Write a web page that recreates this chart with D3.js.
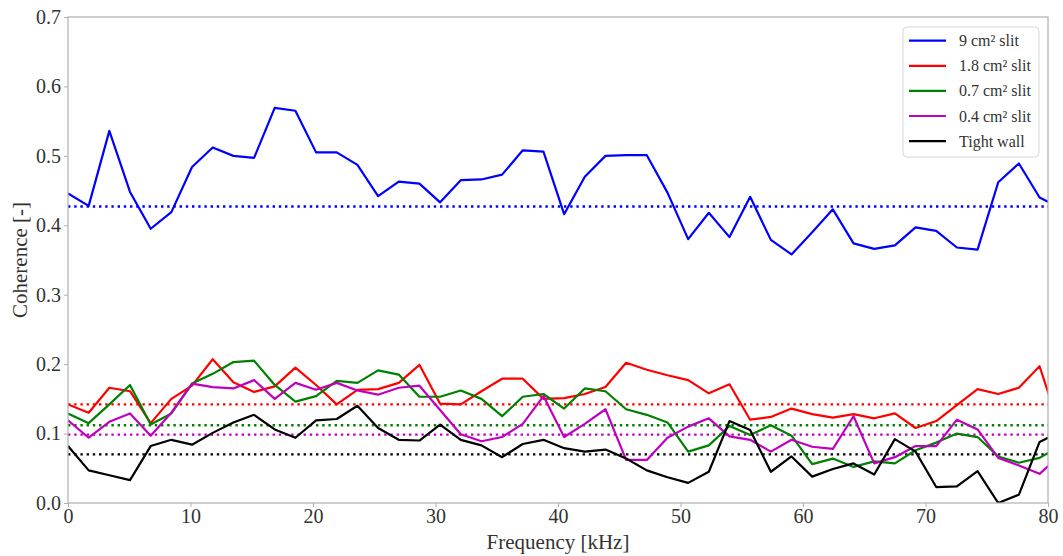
<!DOCTYPE html>
<html>
<head>
<meta charset="utf-8">
<script src="https://cdn.jsdelivr.net/npm/d3@7"></script>
<style>
  body { margin: 0; background: #fff; }
  svg { display: block; font-family: "Liberation Serif", "DejaVu Serif", serif; }
  .tick text { font-family: "Liberation Serif", serif !important; font-size: 20px !important; fill: #333; }
</style>
</head>
<body>
<div id="chart-area"></div>
<script>
// frequency step between spectral points (kHz)
var step = 1.6875;

var blue9 = [0.446, 0.428, 0.536, 0.448, 0.395, 0.419, 0.484, 0.512, 0.500, 0.497,
  0.569, 0.565, 0.505, 0.505, 0.487, 0.442, 0.463, 0.460, 0.433, 0.465,
  0.466, 0.473, 0.508, 0.506, 0.416, 0.470, 0.500, 0.501, 0.501, 0.447,
  0.380, 0.418, 0.383, 0.441, 0.379, 0.358, 0.390, 0.423, 0.374, 0.366,
  0.371, 0.397, 0.392, 0.368, 0.365, 0.462, 0.489, 0.440, 0.425];

var red18 = [0.142, 0.130, 0.166, 0.161, 0.115, 0.150, 0.169, 0.207, 0.174, 0.160,
  0.168, 0.195, 0.170, 0.142, 0.163, 0.164, 0.173, 0.199, 0.143, 0.142,
  0.161, 0.179, 0.179, 0.150, 0.151, 0.157, 0.167, 0.202, 0.192, 0.184,
  0.177, 0.158, 0.171, 0.120, 0.124, 0.136, 0.128, 0.123, 0.128, 0.122,
  0.129, 0.108, 0.118, 0.141, 0.164, 0.157, 0.166, 0.197, 0.106];

var green07 = [0.129, 0.115, 0.142, 0.170, 0.113, 0.129, 0.172, 0.186, 0.203, 0.205,
  0.170, 0.146, 0.154, 0.176, 0.173, 0.191, 0.185, 0.153, 0.153, 0.162,
  0.150, 0.125, 0.153, 0.157, 0.136, 0.165, 0.161, 0.135, 0.127, 0.116,
  0.074, 0.083, 0.111, 0.098, 0.112, 0.097, 0.056, 0.064, 0.052, 0.060,
  0.057, 0.076, 0.087, 0.100, 0.095, 0.067, 0.058, 0.065, 0.082];

var magenta04 = [0.119, 0.094, 0.117, 0.129, 0.097, 0.130, 0.172, 0.167, 0.165, 0.177,
  0.150, 0.173, 0.163, 0.173, 0.162, 0.156, 0.166, 0.169, 0.134, 0.099,
  0.089, 0.095, 0.114, 0.154, 0.095, 0.114, 0.135, 0.062, 0.062, 0.094,
  0.110, 0.122, 0.096, 0.091, 0.074, 0.091, 0.081, 0.078, 0.125, 0.057,
  0.066, 0.082, 0.082, 0.120, 0.106, 0.065, 0.054, 0.042, 0.069];

var blackWall = [0.082, 0.047, 0.040, 0.033, 0.082, 0.091, 0.084, 0.101, 0.116, 0.127,
  0.106, 0.094, 0.119, 0.121, 0.140, 0.108, 0.091, 0.090, 0.113, 0.091,
  0.083, 0.066, 0.085, 0.091, 0.079, 0.074, 0.077, 0.064, 0.047, 0.037,
  0.029, 0.045, 0.118, 0.105, 0.045, 0.067, 0.038, 0.049, 0.057, 0.041,
  0.092, 0.074, 0.023, 0.024, 0.046, 0.000, 0.012, 0.088, 0.103];

var labels = ["9 cm² slit", "1.8 cm² slit", "0.7 cm² slit", "0.4 cm² slit", "Tight wall"];
var colors = ["#0000ff", "#ff0000", "#008000", "#bf00bf", "#000000"];
var means = [0.427, 0.142, 0.112, 0.0985, 0.070];
var xTicks = [0, 10, 20, 30, 40, 50, 60, 70, 80];
var yTicks = [0, 0.1, 0.2, 0.3, 0.4, 0.5, 0.6, 0.7];

var series = [blue9, red18, green07, magenta04, blackWall];

var W = 1063, H = 556;
var margin = {left: 68, right: 15, top: 17, bottom: 53};

var svg = d3.select("#chart-area").append("svg")
  .attr("width", W)
  .attr("height", H);

var x = d3.scaleLinear().domain([0, 80]).range([margin.left, W - margin.right]);
var y = d3.scaleLinear().domain([0, 0.7]).range([H - margin.bottom, margin.top]);

svg.append("clipPath").attr("id", "clip")
  .append("rect")
    .attr("x", x(0)).attr("y", y(0.7))
    .attr("width", x(80) - x(0)).attr("height", y(0) - y(0.7));

var plot = svg.append("g").attr("clip-path", "url(#clip)");

var line = d3.line()
  .x(function(d, i){ return x(i * step); })
  .y(function(d){ return y(d); });

// mean levels, dotted
means.forEach(function(m, k){
  plot.append("line")
    .attr("x1", x(0)).attr("x2", x(80))
    .attr("y1", y(m)).attr("y2", y(m))
    .style("stroke", colors[k])
    .style("stroke-width", 2.4)
    .style("stroke-dasharray", "2.4,3.8");
});

series.forEach(function(s, k){
  plot.append("path")
    .datum(s)
    .attr("d", line)
    .style("fill", "none")
    .style("stroke", colors[k])
    .style("stroke-width", 2.2)
    .style("stroke-linejoin", "round");
});

// frame
svg.append("rect")
  .attr("x", x(0)).attr("y", y(0.7))
  .attr("width", x(80) - x(0)).attr("height", y(0) - y(0.7))
  .style("fill", "none")
  .style("stroke", "#b0b0b0")
  .style("stroke-width", 1.2);

var xAxis = svg.append("g")
  .attr("transform", "translate(0," + y(0) + ")")
  .call(d3.axisBottom(x).tickValues(xTicks).tickSize(4).tickPadding(2).tickFormat(d3.format("d")));

var yAxis = svg.append("g")
  .attr("transform", "translate(" + x(0) + ",0)")
  .call(d3.axisLeft(y).tickValues(yTicks).tickSize(4).tickPadding(3).tickFormat(d3.format(".1f")));

[xAxis, yAxis].forEach(function(a){
  a.attr("font-family", "Liberation Serif").attr("font-size", 20);
  a.select(".domain").remove();
  a.selectAll(".tick line").style("stroke", "#b0b0b0");
});

svg.append("text")
  .attr("x", (x(0) + x(80)) / 2)
  .attr("y", 549)
  .attr("text-anchor", "middle")
  .style("font-size", "21px")
  .style("fill", "#333")
  .text("Frequency [kHz]");

svg.append("text")
  .attr("transform", "translate(27," + ((y(0) + y(0.7)) / 2) + ") rotate(-90)")
  .attr("text-anchor", "middle")
  .style("font-size", "21px")
  .style("fill", "#333")
  .text("Coherence [-]");

// legend
var lg = svg.append("g").attr("transform", "translate(903,27)");
lg.append("rect")
  .attr("width", 136).attr("height", 130)
  .attr("rx", 4)
  .style("fill", "#fff")
  .style("fill-opacity", 0.85)
  .style("stroke", "#d8d8d8")
  .style("stroke-width", 1);

labels.forEach(function(l, k){
  var yy = 13.7 + k * 25.1;
  lg.append("line")
    .attr("x1", 6).attr("x2", 43)
    .attr("y1", yy).attr("y2", yy)
    .style("stroke", colors[k])
    .style("stroke-width", 2.2);
  lg.append("text")
    .attr("x", 56).attr("y", yy + 5.5)
    .style("font-size", "16px")
    .style("fill", "#333")
    .text(l);
});
</script>
</body>
</html>
